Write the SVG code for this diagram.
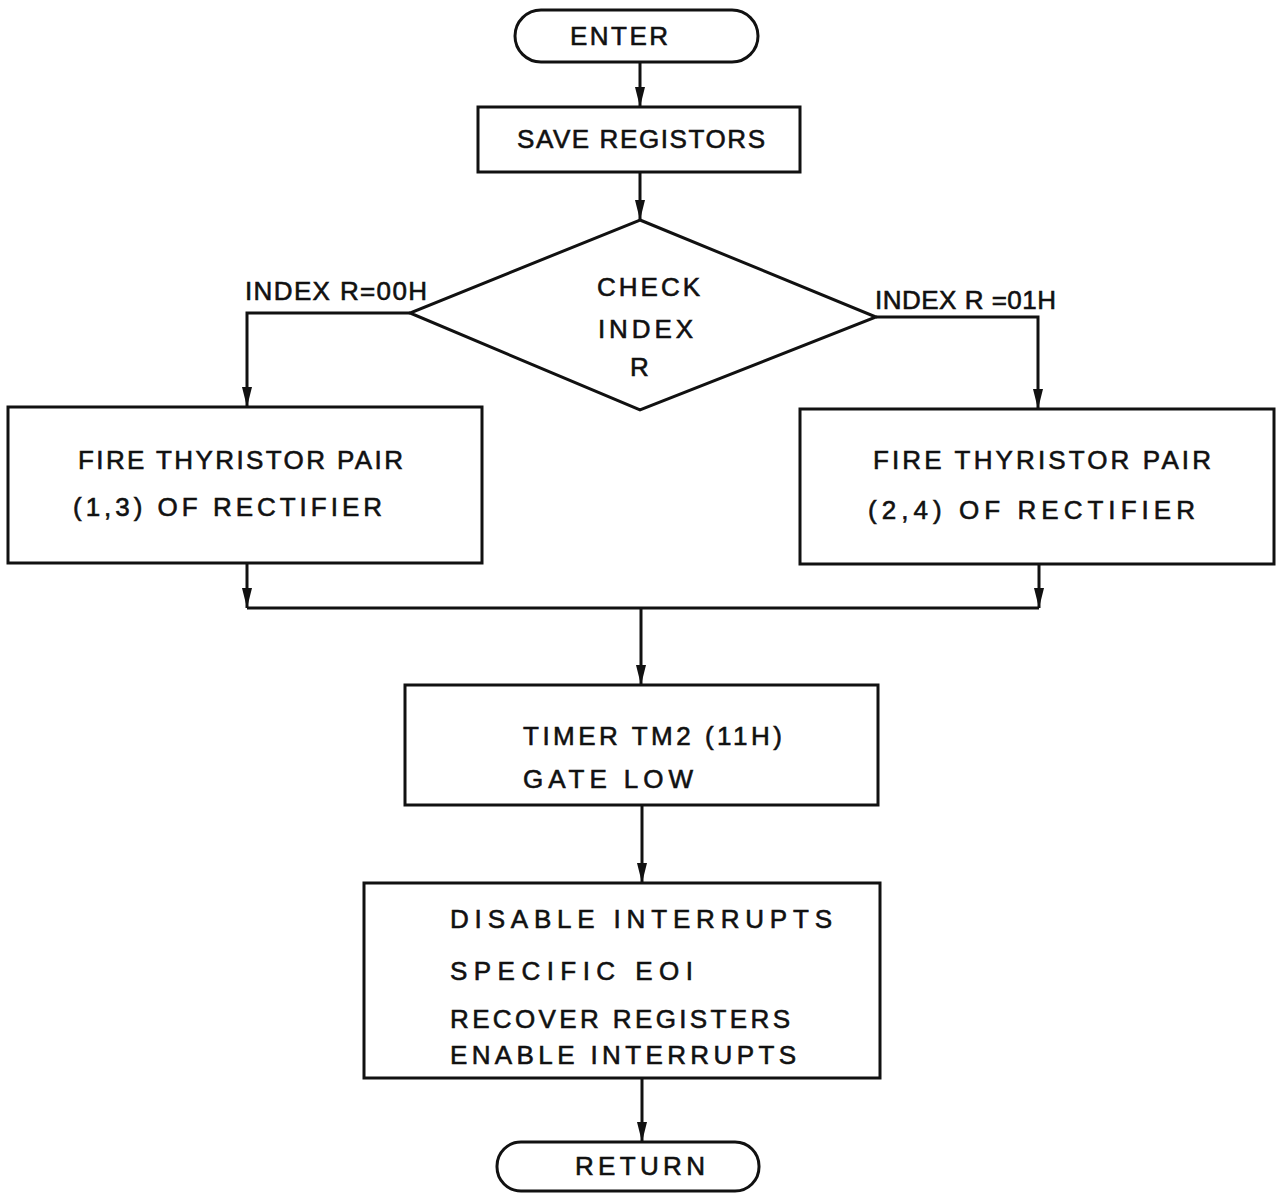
<svg xmlns="http://www.w3.org/2000/svg" width="1276" height="1193" viewBox="0 0 1276 1193">
  <style>
    .shape { fill: #ffffff; stroke: #111111; stroke-width: 3; }
    .wire { fill: none; stroke: #111111; stroke-width: 3; stroke-linejoin: miter; }
    .lbl { font-family: "Liberation Sans", Arial, sans-serif; font-size: 26px; fill: #111111; stroke: #111111; stroke-width: 0.6; }
  </style>
  <defs>
    <marker id="head" markerUnits="userSpaceOnUse" markerWidth="20" markerHeight="12" refX="20" refY="5" orient="auto">
      <path d="M0,0 L20,5 L0,10 z" fill="#111111"/>
    </marker>
  </defs>
  <rect width="1276" height="1193" fill="#ffffff"/>

  <!-- connectors -->
  <g id="connectors">
    <line class="wire" x1="640" y1="62" x2="640" y2="107" marker-end="url(#head)"/>
    <line class="wire" x1="640" y1="172" x2="640" y2="220" marker-end="url(#head)"/>
    <polyline class="wire" points="410,313 247,313 247,407" marker-end="url(#head)"/>
    <polyline class="wire" points="876,317 1038,317 1038,409" marker-end="url(#head)"/>
    <polyline class="wire" points="247,563 247,608" marker-end="url(#head)"/>
    <polyline class="wire" points="1039,564 1039,608" marker-end="url(#head)"/>
    <line class="wire" x1="247" y1="608" x2="1039" y2="608"/>
    <line class="wire" x1="641" y1="608" x2="641" y2="685" marker-end="url(#head)"/>
    <line class="wire" x1="642" y1="805" x2="642" y2="883" marker-end="url(#head)"/>
    <line class="wire" x1="642" y1="1078" x2="642" y2="1142" marker-end="url(#head)"/>
    <text class="lbl" x="245" y="300" textLength="182" lengthAdjust="spacing">INDEX R=00H</text>
    <text class="lbl" x="875" y="309" textLength="181" lengthAdjust="spacing">INDEX R =01H</text>
  </g>

  <!-- start terminal -->
  <g id="enter">
    <rect class="shape" x="515" y="10" width="243" height="52" rx="26" ry="26"/>
    <text class="lbl" x="570" y="45" textLength="98" lengthAdjust="spacing">ENTER</text>
  </g>

  <g id="save-registors">
    <rect class="shape" x="478" y="107" width="322" height="65"/>
    <text class="lbl" x="517" y="148" textLength="248" lengthAdjust="spacing">SAVE REGISTORS</text>
  </g>

  <g id="check-index">
    <polygon class="shape" points="640,220 876,317 640,410 410,313"/>
    <text class="lbl" x="597" y="296" textLength="103" lengthAdjust="spacing">CHECK</text>
    <text class="lbl" x="598" y="338" textLength="95" lengthAdjust="spacing">INDEX</text>
    <text class="lbl" x="630" y="376">R</text>
  </g>

  <g id="fire-13">
    <rect class="shape" x="8" y="407" width="474" height="156"/>
    <text class="lbl" x="78" y="469" textLength="325" lengthAdjust="spacing">FIRE THYRISTOR PAIR</text>
    <text class="lbl" x="73" y="516" textLength="309" lengthAdjust="spacing">(1,3) OF RECTIFIER</text>
  </g>

  <g id="fire-24">
    <rect class="shape" x="800" y="409" width="474" height="155"/>
    <text class="lbl" x="873" y="469" textLength="338" lengthAdjust="spacing">FIRE THYRISTOR PAIR</text>
    <text class="lbl" x="868" y="519" textLength="327" lengthAdjust="spacing">(2,4) OF RECTIFIER</text>
  </g>

  <g id="timer">
    <rect class="shape" x="405" y="685" width="473" height="120"/>
    <text class="lbl" x="523" y="745" textLength="259" lengthAdjust="spacing">TIMER TM2 (11H)</text>
    <text class="lbl" x="523" y="788" textLength="170" lengthAdjust="spacing">GATE LOW</text>
  </g>

  <g id="finish">
    <rect class="shape" x="364" y="883" width="516" height="195"/>
    <text class="lbl" x="450" y="928" textLength="382" lengthAdjust="spacing">DISABLE INTERRUPTS</text>
    <text class="lbl" x="450" y="980" textLength="243" lengthAdjust="spacing">SPECIFIC EOI</text>
    <text class="lbl" x="450" y="1028" textLength="340" lengthAdjust="spacing">RECOVER REGISTERS</text>
    <text class="lbl" x="450" y="1064" textLength="346" lengthAdjust="spacing">ENABLE INTERRUPTS</text>
  </g>

  <!-- end terminal -->
  <g id="return">
    <rect class="shape" x="497" y="1142" width="262" height="49" rx="24" ry="24"/>
    <text class="lbl" x="575" y="1175" textLength="130" lengthAdjust="spacing">RETURN</text>
  </g>
</svg>
